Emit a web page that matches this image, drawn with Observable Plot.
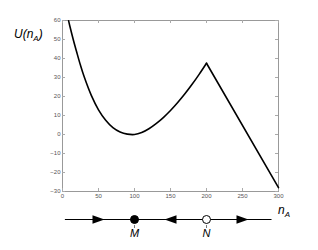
<!DOCTYPE html>
<html><head><meta charset="utf-8">
<script src="https://cdn.jsdelivr.net/npm/d3@7"></script>
<script src="https://cdn.jsdelivr.net/npm/@observablehq/plot@0.6"></script>
<style>
body{margin:0;background:#fff;}
#wrap{position:relative;width:318px;height:250px;overflow:hidden;font-family:"Liberation Sans",Arial,sans-serif;background:#fff;}
#main{position:absolute;left:0;top:0;}
#nline{position:absolute;left:0;top:202px;}
.lab{position:absolute;font-style:italic;color:#000;white-space:nowrap;line-height:1;}
.lab sub{font-size:8px;vertical-align:-3px;}
</style></head><body>
<div id="wrap">
  <div id="main"></div>
  <div id="nline"></div>
  <div class="lab" style="left:14px;top:28px;font-size:12px;">U(n<sub>A</sub>)</div>
  <div class="lab" style="left:278px;top:204px;font-size:12px;">n<sub>A</sub></div>
</div>
<script>
// smooth part of the potential U(n_A)
const nA = [8.5, 10, 15, 20, 25, 30, 40, 50, 60, 70, 80, 90, 100, 110, 120, 130, 140, 150, 160, 170, 180, 190, 200];
const U  = [59.8, 57.4, 49.9, 43, 36.4, 30.5, 20.6, 13, 7.5, 3.6, 1.3, 0.2, 0, 1, 3, 5.7, 8.9, 12.6, 16.8, 21.4, 26.4, 31.8, 37.5];
// linear part after the peak
const nLin = [200, 300];
const ULin = [37.5, -28];
// axis ticks
const yTicks = [-30, -20, -10, 0, 10, 20, 30, 40, 50, 60];
const xTicks = [0, 50, 100, 150, 200, 250, 300];
// phase line
const lineFrom = 4, lineTo = 291;
const arrowN = [50, 150, 250];
const arrowDir = ["right", "left", "right"];
const stateN = [100, 200];
const stateLabel = ["M", "N"];
const stateStable = [true, false];

const curveData = nA.map((n, i) => ({n, u: U[i]}));
const linData = nLin.map((n, i) => ({n, u: ULin[i]}));
const arrows = arrowN.map((n, i) => ({n, dir: arrowDir[i]}));
const states = stateN.map((n, i) => ({n, label: stateLabel[i], stable: stateStable[i]}));

const W = 318, mL = 62, mR = 40, mT = 20, mB = 11, H = 202;
const pw = W - mL - mR, ph = H - mT - mB;
const font = "Liberation Sans, Arial, sans-serif";
const tickCol = "#aaa";

const main = Plot.plot({
  width: W, height: H, marginLeft: mL, marginRight: mR, marginTop: mT, marginBottom: mB,
  style: {fontFamily: font, background: "#fff", overflow: "visible"},
  x: {domain: [0, 300]},
  y: {domain: [-30, 60]},
  marks: [
    Plot.frame({stroke: "#999"}),
    Plot.tickY(yTicks, {y: d => d, stroke: tickCol, insetRight: pw - 3}),
    Plot.tickY(yTicks, {y: d => d, stroke: tickCol, insetLeft: pw - 3}),
    Plot.tickX(xTicks, {x: d => d, stroke: tickCol, insetTop: ph - 3}),
    Plot.tickX(xTicks, {x: d => d, stroke: tickCol, insetBottom: ph - 3}),
    Plot.axisY(yTicks, {tickSize: 0, tickPadding: 2, fontSize: 6, color: "#555", label: null}),
    Plot.axisX(xTicks, {tickSize: 0, tickPadding: 2, fontSize: 6, color: "#555", label: null}),
    Plot.line(curveData, {x: "n", y: "u", curve: "catmull-rom", stroke: "#000", strokeWidth: 1.6}),
    Plot.line(linData, {x: "n", y: "u", stroke: "#000", strokeWidth: 1.6})
  ]
});
document.getElementById("main").appendChild(main);

const arrowSymbol = {
  draw(ctx) {
    ctx.moveTo(6, 0);
    ctx.lineTo(-6, -4.2);
    ctx.lineTo(-6, 4.2);
    ctx.closePath();
  }
};

const nl = Plot.plot({
  width: W, height: 48, marginLeft: mL, marginRight: mR, marginTop: 0, marginBottom: 14,
  style: {fontFamily: font, background: "#fff", overflow: "visible"},
  x: {domain: [0, 300], axis: null},
  y: {domain: [-1, 1], axis: null},
  marks: [
    Plot.ruleY([0], {x1: lineFrom, x2: lineTo, stroke: "#000", strokeWidth: 1.2}),
    Plot.dot(arrows, {x: "n", y: 0, symbol: arrowSymbol, rotate: d => d.dir === "right" ? 0 : 180, fill: "#000", stroke: "none"}),
    Plot.ruleX(states, {x: "n", insetTop: 23, insetBottom: 8, stroke: "#555", strokeWidth: 0.8}),
    Plot.dot(states, {x: "n", y: 0, r: 4, fill: d => d.stable ? "#000" : "#fff", stroke: "#000", strokeWidth: 1}),
    Plot.text(states, {x: "n", y: 0, text: "label", dy: 14, fontSize: 11, fontStyle: "italic", fill: "#000"})
  ]
});
document.getElementById("nline").appendChild(nl);
</script>
</body></html>
